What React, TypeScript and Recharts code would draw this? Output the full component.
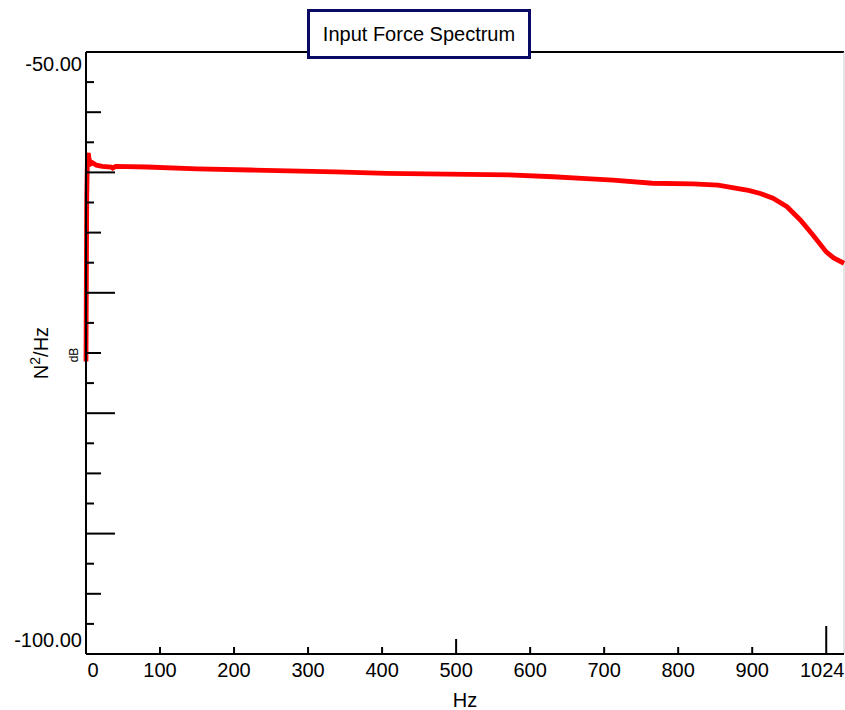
import React from "react";
import { LineChart, Line, XAxis, YAxis, ReferenceLine } from "recharts";

const freqHz = [0, 1, 2, 3, 4, 6, 9, 14, 22, 34, 36, 40, 82, 150, 222, 337, 406, 571, 631, 670, 712, 765, 820, 854, 877, 895, 911, 928, 947, 965, 982, 1000, 1010, 1024];
const psdDb = [-75.7, -62.0, -58.6, -58.4, -58.8, -59.3, -59.2, -59.4, -59.5, -59.55, -59.65, -59.5, -59.55, -59.7, -59.8, -59.95, -60.08, -60.2, -60.36, -60.5, -60.65, -60.9, -60.95, -61.05, -61.3, -61.5, -61.75, -62.15, -62.85, -63.95, -65.2, -66.6, -67.1, -67.55];

const xTicks = [0, 100, 200, 300, 400, 500, 600, 700, 800, 900, 1000];
const xTickLabels = ["0", "100", "200", "300", "400", "500", "600", "700", "800", "900", "1024"];
const yTicks = [-100, -97.5, -95, -92.5, -90, -87.5, -85, -82.5, -80, -77.5, -75, -72.5, -70, -67.5, -65, -62.5, -60, -57.5, -55, -52.5, -50];
const yTickLabels: Record<string, string> = { "-50": "-50.00", "-100": "-100.00" };

const title = "Input Force Spectrum";
const xLabel = "Hz";
const yUnit = "dB";

const data = freqHz.map((hz, i) => ({ hz, db: psdDb[i] }));

const FONT = "'Liberation Sans', Arial, sans-serif";

const XTick = (props: any) => {
  const { x, y, payload, index } = props;
  const v = payload.value;
  const len = v === 1000 ? 28 : v === 500 ? 15 : 7;
  const label = xTickLabels[xTicks.indexOf(v)] ?? String(v);
  let anchor: "start" | "middle" | "end" = "middle";
  let tx = x;
  if (v === 0) {
    anchor = "start";
    tx = x + 1.5;
  } else if (v === 1000) {
    tx = x - 4;
  }
  return (
    <g key={index}>
      {v !== 0 && <line x1={x} x2={x} y1={y} y2={y - len} stroke="#000" strokeWidth={2} />}
      <text x={tx} y={y + 23} textAnchor={anchor} fontSize={20} fontFamily={FONT} fill="#000">
        {label}
      </text>
    </g>
  );
};

const YTick = (props: any) => {
  const { x, y, payload, index } = props;
  const v = payload.value;
  let len = 0;
  if (v !== -50 && v !== -100) {
    if (v % 10 === 0) len = 29;
    else if (v % 5 === 0) len = 15;
    else len = 8;
  }
  const label = yTickLabels[String(v)];
  return (
    <g key={index}>
      {len > 0 && <line x1={x} x2={x + len} y1={y} y2={y} stroke="#000" strokeWidth={2} />}
      {label && (
        <text x={x - 4} y={v === -50 ? y + 19 : y - 7} textAnchor="end" fontSize={20} fontFamily={FONT} fill="#000">
          {label}
        </text>
      )}
    </g>
  );
};

export default function App() {
  return (
    <div style={{ position: "absolute", left: 0, top: 0, width: 845, height: 710, background: "#fff" }}>
      <LineChart width={845} height={710} data={data} margin={{ top: 52, right: 1, bottom: 26, left: 26 }}>
        <XAxis
          dataKey="hz"
          type="number"
          domain={[0, 1024]}
          ticks={xTicks}
          interval={0}
          height={30}
          tickSize={0}
          tickMargin={0}
          tick={XTick}
          tickLine={false}
          axisLine={{ stroke: "#000", strokeWidth: 2 }}
        />
        <YAxis
          type="number"
          domain={[-100, -50]}
          ticks={yTicks}
          interval={0}
          width={60}
          tickSize={0}
          tickMargin={0}
          tick={YTick}
          tickLine={false}
          axisLine={{ stroke: "#000", strokeWidth: 2 }}
        />
        <ReferenceLine y={-50} stroke="#000" strokeWidth={2} />
        <ReferenceLine x={1024} stroke="#c8c8c8" strokeWidth={1} />
        <Line
          dataKey="db"
          type="linear"
          stroke="#ff0000"
          strokeWidth={4.8}
          dot={false}
          isAnimationActive={false}
        />
      </LineChart>
      <svg width={845} height={710} style={{ position: "absolute", left: 0, top: 0, pointerEvents: "none" }}>
        <text x={465} y={707} textAnchor="middle" fontSize={20} fontFamily={FONT} fill="#000">
          {xLabel}
        </text>
        <text transform="translate(48,353) rotate(-90)" textAnchor="middle" fontSize={20} fontFamily={FONT} fill="#000">
          N<tspan dy={-8} fontSize={14}>2</tspan>
          <tspan dy={8} fontSize={20}>/Hz</tspan>
        </text>
        <text transform="translate(78,355) rotate(-90)" textAnchor="middle" fontSize={12} fontFamily={FONT} fill="#000">
          {yUnit}
        </text>
      </svg>
      <div
        style={{
          position: "absolute",
          left: 307,
          top: 9,
          width: 224,
          height: 50,
          boxSizing: "border-box",
          border: "3px solid #0a0a64",
          background: "#fff",
          display: "flex",
          alignItems: "center",
          justifyContent: "center",
          fontFamily: FONT,
          fontSize: 20,
          color: "#000",
          whiteSpace: "nowrap",
        }}
      >
        {title}
      </div>
    </div>
  );
}
